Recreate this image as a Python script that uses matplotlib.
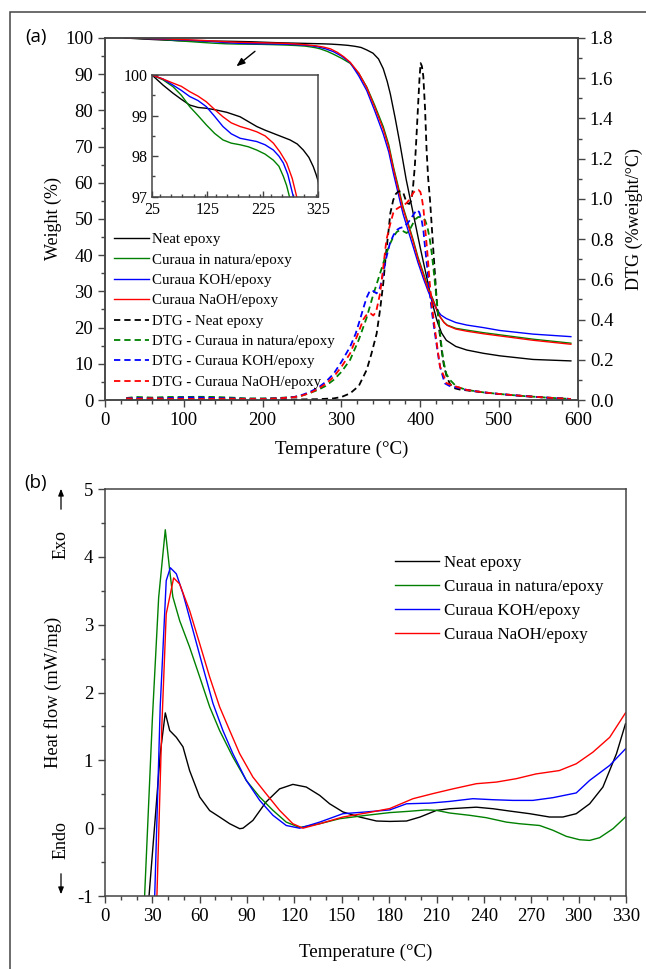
import matplotlib
matplotlib.use("Agg")
import matplotlib.pyplot as plt
from matplotlib.patches import Rectangle, FancyArrowPatch
from matplotlib.ticker import MultipleLocator

plt.rcParams['font.family'] = ['Liberation Serif', 'DejaVu Serif']
plt.rcParams['axes.unicode_minus'] = False

# ---------------- TGA (weight %) ----------------
t_neat = [25, 45, 63, 78, 93, 108, 123, 140, 160, 184, 199, 214, 229, 244, 259, 274, 287, 298, 308, 316, 321, 325,
          332, 340, 347, 353, 358, 362, 368, 374, 382, 391, 400, 408, 415, 421, 427, 433, 445, 459, 480, 501, 543, 591]
w_neat = [100, 99.75, 99.55, 99.4, 99.26, 99.2, 99.18, 99.14, 99.08, 98.97, 98.85, 98.73, 98.64, 98.56, 98.48, 98.4,
          98.3, 98.15, 97.97, 97.74, 97.55, 97.37,
          96.7, 95.8, 94.2, 91.5, 88, 84.5, 78, 71, 61, 51.5, 42, 34, 27, 22, 18.5, 16.5, 14.8, 13.8, 12.9, 12.2, 11.2, 10.8]

t_nat = [25, 45, 63, 78, 93, 108, 123, 138, 153, 168, 184, 199, 214, 229, 244, 254, 262, 268, 273,
         282, 290, 300, 311, 322, 332, 342, 353, 360, 366, 372, 378, 385, 391, 397, 404, 410, 416.5, 421, 425, 430, 434,
         445, 459, 480, 501, 543, 591]
w_nat = [100, 99.88, 99.71, 99.5, 99.22, 99.0, 98.77, 98.56, 98.4, 98.32, 98.28, 98.23, 98.15, 98.05, 97.9, 97.75,
         97.5, 97.27, 97.0,
         96.3, 95.5, 94.4, 93, 90.2, 86.5, 81.5, 75.5, 70.5, 64.3, 59, 53.4, 48.5, 44.2, 39.5, 35, 31, 27.6, 25, 23,
         21.5, 20.7, 19.8, 19.3, 18.6, 18, 16.8, 15.7]

t_koh = [25, 45, 63, 78, 93, 108, 123, 138, 153, 168, 184, 199, 214, 229, 244, 254, 262, 270, 280,
         290, 300, 311, 322, 332, 342, 353, 360, 366, 372, 378, 385, 391, 397, 404, 410, 416, 421, 426, 433,
         445, 459, 480, 501, 543, 591]
w_koh = [100, 99.9, 99.75, 99.62, 99.47, 99.37, 99.22, 98.98, 98.73, 98.55, 98.44, 98.4, 98.36, 98.28, 98.15, 98.0,
         97.83, 97.55, 97.0,
         96.2, 95, 93.2, 89.5, 85.5, 80, 73.5, 68.5, 62.5, 57, 51.5, 46.5, 42.3, 38, 33.5, 30, 27, 25, 23.5, 22.5,
         21.4, 20.7, 20, 19.2, 18.2, 17.5]

t_naoh = [25, 45, 63, 78, 93, 108, 123, 138, 153, 168, 184, 199, 214, 229, 244, 256, 268, 278, 286,
          295, 303, 311, 322, 332, 342, 353, 360, 366, 372, 378, 385, 391, 397, 404, 410, 416.5, 421, 425, 430, 434,
          445, 459, 480, 501, 543, 591]
w_naoh = [100, 99.9, 99.8, 99.72, 99.59, 99.48, 99.34, 99.15, 98.97, 98.82, 98.73, 98.67, 98.6, 98.5, 98.32, 98.1,
          97.83, 97.45, 97.0,
          96.0, 94.8, 93.3, 90.3, 86.3, 81, 74.8, 69.8, 63.8, 58.3, 52.9, 48, 43.7, 39, 34.5, 30.6, 27.3, 24.8, 23,
          21.4, 20.6, 19.6, 19.0, 18.3, 17.7, 16.5, 15.4]

# ---------------- DTG (%weight/°C) ----------------
td_neat = [27, 50, 80, 110, 140, 170, 200, 230, 250, 270, 290, 300, 311, 322, 332, 338, 344.6, 349, 353, 356, 359.4,
           362, 365.7, 369, 372, 375, 378.4, 382.7, 386, 389, 391, 393, 395, 397.5, 399, 400.4, 402, 403.8, 406, 408,
           410, 412.3, 416.5, 420.8, 424, 427, 430, 433.5, 437.6, 442, 450, 459, 480, 500, 530, 560, 591]
d_neat = [0.006, 0.005, 0.004, 0.004, 0.003, 0.002, 0.002, 0.002, 0.003, 0.004, 0.008, 0.015, 0.033, 0.07, 0.15, 0.23,
          0.33, 0.45, 0.58, 0.71, 0.83, 0.93, 0.995, 1.025, 1.036, 1.038, 1.03, 0.98, 0.975, 0.995, 1.07, 1.16, 1.3,
          1.49, 1.6, 1.675, 1.66, 1.61, 1.45, 1.24, 1.1, 0.995, 0.746, 0.497, 0.35, 0.25, 0.17, 0.116, 0.08, 0.06,
          0.052, 0.048, 0.038, 0.03, 0.02, 0.012, 0.005]

td_nat = [27, 40, 60, 80, 100, 120, 140, 160, 180, 200, 220, 240, 250, 260, 270, 280, 290, 300, 311, 322, 332, 340,
          349, 357, 362, 365.7, 370, 374, 378, 382.7, 387, 391, 394, 397.5, 401, 406, 409, 412, 414.5, 416.5, 420.8,
          425, 429, 433, 437.6, 446, 459, 480, 500, 530, 560, 591]
d_nat = [0.01, 0.015, 0.012, 0.015, 0.015, 0.016, 0.015, 0.012, 0.008, 0.008, 0.01, 0.015, 0.022, 0.035, 0.05, 0.07,
         0.1, 0.14, 0.2, 0.3, 0.41, 0.52, 0.63, 0.73, 0.78, 0.81, 0.835, 0.845, 0.84, 0.83, 0.85, 0.88, 0.9, 0.91,
         0.91, 0.895, 0.86, 0.8, 0.73, 0.66, 0.497, 0.33, 0.2, 0.13, 0.1, 0.066, 0.05, 0.038, 0.03, 0.02, 0.012, 0.005]

td_koh = [27, 40, 60, 80, 100, 120, 140, 160, 180, 200, 220, 240, 250, 260, 270, 280, 290, 300, 311, 318, 323.5, 328,
          332, 335, 338, 341, 344.6, 349, 353, 357, 361.5, 366, 370, 374, 378.4, 383, 387, 391, 395.4, 398.5, 401.7,
          404, 406, 409, 412, 415, 418.6, 422, 425, 431, 437, 442, 459, 480, 500, 530, 560, 591]
d_koh = [0.008, 0.01, 0.008, 0.01, 0.012, 0.012, 0.01, 0.008, 0.006, 0.006, 0.008, 0.015, 0.025, 0.04, 0.06, 0.09,
         0.13, 0.19, 0.265, 0.33, 0.4, 0.46, 0.51, 0.535, 0.547, 0.54, 0.53, 0.56, 0.63, 0.71, 0.78, 0.82, 0.845,
         0.855, 0.86, 0.875, 0.895, 0.92, 0.945, 0.935, 0.895, 0.84, 0.76, 0.65, 0.53, 0.43, 0.33, 0.24, 0.166, 0.083,
         0.07, 0.066, 0.05, 0.038, 0.03, 0.02, 0.012, 0.005]

td_naoh = [27, 40, 60, 80, 100, 120, 140, 160, 180, 200, 220, 240, 250, 260, 270, 280, 290, 300, 311, 320, 327.7, 331,
           334, 337, 340.4, 344, 349, 353, 357, 361.5, 365.7, 370, 374, 378, 382.7, 387, 391, 394, 397.5, 400, 401.7,
           404, 406, 409, 412, 415, 418.6, 422, 425, 433.5, 446, 459, 480, 500, 530, 560, 591]
d_naoh = [0.008, 0.006, 0.008, 0.006, 0.006, 0.005, 0.006, 0.006, 0.005, 0.005, 0.008, 0.014, 0.022, 0.035, 0.055,
          0.08, 0.115, 0.165, 0.232, 0.32, 0.4, 0.42, 0.43, 0.43, 0.42, 0.44, 0.53, 0.66, 0.796, 0.87, 0.93, 0.95,
          0.96, 0.965, 0.98, 1.0, 1.03, 1.042, 1.045, 1.035, 1.01, 0.95, 0.86, 0.73, 0.58, 0.46, 0.35, 0.25, 0.166,
          0.083, 0.066, 0.05, 0.038, 0.03, 0.02, 0.012, 0.005]

# ---------------- DSC (heat flow mW/mg) ----------------
th_neat = [27.9, 32, 35, 38.2, 41, 45.2, 49.4, 53.6, 60, 66.3, 72.6, 79, 85.3, 87.4, 93.7, 102, 110.6, 119, 127.5,
           136, 142.3, 150.7, 161.3, 172, 180.4, 191, 199.6, 210, 218.3, 235.2, 245.8, 256.3, 269, 281.6, 290, 298.5,
           307, 315.4, 324, 329.7]
h_neat = [-1, 0.2, 1.1, 1.7, 1.44, 1.34, 1.2, 0.85, 0.46, 0.26, 0.165, 0.066, -0.007, 0, 0.115, 0.386, 0.58, 0.646,
          0.607, 0.484, 0.36, 0.24, 0.165, 0.106, 0.1, 0.106, 0.165, 0.263, 0.287, 0.31, 0.287, 0.253, 0.214, 0.165,
          0.165, 0.214, 0.36, 0.607, 1.1, 1.54]

th_nat = [25.1, 30, 34, 38.2, 41, 43, 47.3, 53.6, 60, 66.3, 72.6, 81, 89.5, 98, 106.4, 114.8, 123.3, 136, 148.6,
          165.5, 180.4, 193, 203.5, 210, 218.3, 231, 241.5, 254.2, 262.6, 275.3, 283.7, 292.2, 300.6, 307, 313.3,
          321.8, 329.7]
h_nat = [-1, 1.6, 3.4, 4.4, 3.8, 3.41, 3.06, 2.67, 2.23, 1.79, 1.44, 1.05, 0.705, 0.46, 0.263, 0.09, 0.01, 0.066,
         0.14, 0.19, 0.23, 0.25, 0.27, 0.263, 0.224, 0.19, 0.155, 0.09, 0.066, 0.04, -0.03, -0.12, -0.17, -0.18,
         -0.14, -0.007, 0.165]

th_koh = [31.5, 35, 38.8, 41.4, 45.2, 49.4, 55.7, 62, 68.4, 74.7, 81, 89.5, 98, 106.4, 114.8, 123.3, 136, 150.7,
          165.5, 180.4, 191, 205.8, 218.3, 233, 245.8, 258.4, 271, 283.7, 298.5, 307, 319.7, 329.7]
h_koh = [-1, 1.8, 3.65, 3.84, 3.75, 3.46, 2.92, 2.38, 1.84, 1.44, 1.1, 0.705, 0.41, 0.19, 0.04, 0, 0.09, 0.214, 0.24,
         0.27, 0.36, 0.37, 0.395, 0.435, 0.42, 0.41, 0.41, 0.45, 0.52, 0.705, 0.926, 1.17]

th_naoh = [32.9, 36, 38.8, 43.5, 47.3, 53.6, 60, 66.3, 72.6, 79, 85.3, 93.7, 102, 110.6, 119, 125.4, 136, 150.7,
           165.5, 180.4, 195.1, 207.7, 220.4, 235.2, 247.9, 260.5, 273, 287.8, 298.5, 309, 319.7, 329.7]
h_naoh = [-1, 1.5, 3.16, 3.69, 3.6, 3.21, 2.72, 2.23, 1.79, 1.44, 1.1, 0.754, 0.51, 0.263, 0.066, 0, 0.066, 0.165,
          0.224, 0.29, 0.435, 0.51, 0.58, 0.656, 0.68, 0.73, 0.8, 0.85, 0.95, 1.12, 1.34, 1.7]

names = ["Neat epoxy", "Curaua in natura/epoxy", "Curaua KOH/epoxy", "Curaua NaOH/epoxy"]
colors = ["black", "#008000", "#0000ff", "#ff0000"]
spine_col = "#444444"

tga = [(t_neat, w_neat), (t_nat, w_nat), (t_koh, w_koh), (t_naoh, w_naoh)]
dtg = [(td_neat, d_neat), (td_nat, d_nat), (td_koh, d_koh), (td_naoh, d_naoh)]
dsc = [(th_neat, h_neat), (th_nat, h_nat), (th_koh, h_koh), (th_naoh, h_naoh)]


def style_axis(ax, size=13.5):
    for s in ax.spines.values():
        s.set_color(spine_col)
        s.set_linewidth(1.1)
    ax.tick_params(which="both", colors=spine_col, labelcolor="black", labelsize=size, width=1.0)
    ax.tick_params(which="major", length=5)
    ax.tick_params(which="minor", length=3)


fig = plt.figure(figsize=(6.46, 9.69), dpi=100)

# frame around the whole figure
fig.patches.append(Rectangle((10 / 646, -0.01), 1.0, 1 - 12 / 969 + 0.01, transform=fig.transFigure,
                             fill=False, edgecolor=spine_col, linewidth=1.1))

# ---------------- panel (a) ----------------
ax1 = fig.add_axes([0.1625, 0.5872, 0.7322, 0.3736])
ax1r = ax1.twinx()
handles = []
for (t, w), c, n in zip(tga, colors, names):
    h, = ax1.plot(t, w, color=c, lw=1.0, label=n)
    handles.append(h)
for (t, d), c, n in zip(dtg, colors, names):
    h, = ax1r.plot(t, d, color=c, lw=1.3, ls=(0, (3.5, 2.2)), label="DTG - " + n)
    handles.append(h)

ax1.set_xlim(0, 600)
ax1.set_ylim(0, 100)
ax1r.set_ylim(0, 1.8)
ax1.xaxis.set_major_locator(MultipleLocator(100))
ax1.xaxis.set_minor_locator(MultipleLocator(20))
ax1.yaxis.set_major_locator(MultipleLocator(10))
ax1.yaxis.set_minor_locator(MultipleLocator(5))
ax1r.yaxis.set_major_locator(MultipleLocator(0.2))
ax1r.yaxis.set_minor_locator(MultipleLocator(0.1))
ax1r.yaxis.set_major_formatter(plt.FuncFormatter(lambda v, p: "%.1f" % v))
for a in (ax1, ax1r):
    style_axis(a)
    a.tick_params(which="both", direction="out")
ax1.tick_params(which="both", right=False, top=False)
ax1r.tick_params(which="both", left=False, top=False)

ax1.set_xlabel("Temperature (°C)", fontsize=13.7)
ax1.set_ylabel("Weight (%)", fontsize=13)
ax1r.set_ylabel("DTG (%weight/°C)", fontsize=13)
ax1.xaxis.set_label_coords(0.5, -0.113)
ax1.yaxis.set_label_coords(-0.091, 0.5)
ax1r.yaxis.set_label_coords(1.10, 0.5)

ax1r.legend(handles=handles, loc="upper left", bbox_to_anchor=(0.02, 0.462), frameon=False, fontsize=10.7,
            handlelength=2.35, handletextpad=0.2, labelspacing=0.47, borderpad=0, borderaxespad=0)

ax1.annotate("", xy=(164, 91.7), xytext=(193, 96.8),
             arrowprops=dict(arrowstyle="-|>,head_length=0.5,head_width=0.2", color="black", lw=1.0))

# inset
axin = fig.add_axes([0.2353, 0.797, 0.2574, 0.1256])
for (t, w), c in zip(tga, colors):
    axin.plot(t, w, color=c, lw=1.0)
axin.set_xlim(25, 325)
axin.set_ylim(97, 100)
axin.set_xticks([25, 125, 225, 325])
axin.xaxis.set_minor_locator(MultipleLocator(20))
axin.yaxis.set_major_locator(MultipleLocator(1))
axin.yaxis.set_minor_locator(MultipleLocator(0.5))
style_axis(axin, size=11.5)
axin.tick_params(which="both", direction="in", top=False, right=False)
axin.tick_params(which="major", length=4)
axin.tick_params(which="minor", length=2.5)

fig.text(36 / 646, 1 - 37 / 969, "(a)", family=["Open Sans", "DejaVu Sans"], fontsize=13.5, ha="center", va="center")

# ---------------- panel (b) ----------------
ax2 = fig.add_axes([0.1625, 0.0753, 0.8065, 0.42])
for (t, h), c, n in zip(dsc, colors, names):
    ax2.plot(t, h, color=c, lw=1.0, label=n)
ax2.set_xlim(0, 330)
ax2.set_ylim(-1, 5)
ax2.xaxis.set_major_locator(MultipleLocator(30))
ax2.xaxis.set_minor_locator(MultipleLocator(10))
ax2.yaxis.set_major_locator(MultipleLocator(1))
ax2.yaxis.set_minor_locator(MultipleLocator(0.5))
style_axis(ax2)
ax2.tick_params(which="both", direction="out", top=False, right=False)
ax2.set_xlabel("Temperature (°C)", fontsize=13.7)
ax2.set_ylabel("Heat flow (mW/mg)", fontsize=13.3)
ax2.xaxis.set_label_coords(0.5, -0.116)
ax2.yaxis.set_label_coords(-0.0825, 0.5)
ax2.legend(loc="upper left", bbox_to_anchor=(0.556, 0.838), frameon=False, fontsize=12.2,
           handlelength=2.6, handletextpad=0.3, labelspacing=0.47, borderpad=0, borderaxespad=0)

fig.text(36 / 646, 1 - 483 / 969, "(b)", family=["Open Sans", "DejaVu Sans"], fontsize=13.5, ha="center", va="center")
fig.text(61 / 646, 1 - 545 / 969, "Exo", rotation=90, fontsize=13, ha="center", va="center")
fig.text(61 / 646, 1 - 840 / 969, "Endo", rotation=90, fontsize=13, ha="center", va="center")
fig.patches.append(FancyArrowPatch((61 / 646, 1 - 512 / 969), (61 / 646, 1 - 486 / 969),
                   transform=fig.transFigure, arrowstyle="-|>,head_length=4,head_width=1.6", color="black", lw=0.9))
fig.patches.append(FancyArrowPatch((61 / 646, 1 - 871 / 969), (61 / 646, 1 - 897 / 969),
                   transform=fig.transFigure, arrowstyle="-|>,head_length=4,head_width=1.6", color="black", lw=0.9))

fig.savefig("out.png", dpi=100)
